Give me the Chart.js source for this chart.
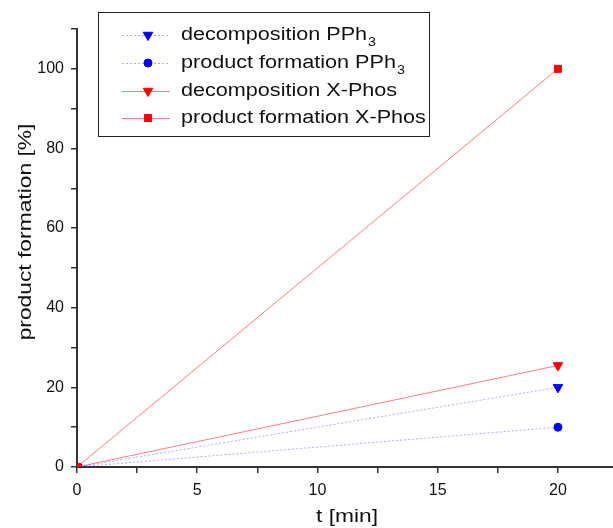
<!DOCTYPE html>
<html>
<head>
<meta charset="utf-8">
<script src="https://cdn.jsdelivr.net/npm/chart.js@4.4.0/dist/chart.umd.min.js"></script>
<style>
  html, body { margin: 0; padding: 0; background: #fff; }
  #wrap { width: 613px; height: 528px; }
</style>
</head>
<body>
<div id="wrap"><canvas id="chart" width="613" height="528"></canvas></div>
<script>
// data
const times = [0, 20];
const decompPPh3 = [0, 20];
const prodPPh3 = [0, 10];
const decompXPhos = [0, 25.5];
const prodXPhos = [0, 100];
const seriesNames = [
  "decomposition PPh₃",
  "product formation PPh₃",
  "decomposition X-Phos",
  "product formation X-Phos",
];

// axis ticks (minor ticks unlabeled)
const xTickValues = [0, 2.5, 5, 7.5, 10, 12.5, 15, 17.5, 20];
const xTickLabels = [0, 5, 10, 15, 20];
const yTickValues = [0, 10, 20, 30, 40, 50, 60, 70, 80, 90, 100, 110];
const yTickLabels = [0, 20, 40, 60, 80, 100];

const FONT = "Arial, 'Liberation Sans', sans-serif";
const BLUE = "#0000ff";
const RED = "#ff0000";

function toPoints(xs, ys) {
  return xs.map((x, i) => ({ x: x, y: ys[i] }));
}

// draw text stretched horizontally (the original fonts are rather wide)
function wideText(ctx, text, x, y, sx) {
  ctx.save();
  ctx.translate(x, y);
  ctx.scale(sx, 1);
  ctx.fillText(text, 0, 0);
  ctx.restore();
  return ctx.measureText(text).width * sx;
}

const boxLegend = {
  id: "boxLegend",
  afterDraw(chart) {
    const ctx = chart.ctx;
    ctx.save();
    // frame
    ctx.fillStyle = "#fff";
    ctx.fillRect(98, 12, 332, 125);
    ctx.strokeStyle = "#222";
    ctx.lineWidth = 1;
    ctx.strokeRect(98.5, 12.5, 331, 124);

    const baselines = [40, 68, 96, 123];
    chart.data.datasets.forEach((ds, i) => {
      const by = baselines[i];
      const my = by - 5;
      // sample line
      ctx.save();
      ctx.strokeStyle = ds.borderColor;
      ctx.lineWidth = ds.borderWidth;
      ctx.setLineDash(ds.borderDash || []);
      ctx.beginPath();
      ctx.moveTo(122, my + 0.5);
      ctx.lineTo(170, my + 0.5);
      ctx.stroke();
      ctx.restore();
      // marker
      ctx.save();
      ctx.fillStyle = ds.pointBackgroundColor;
      ctx.strokeStyle = ds.pointBorderColor;
      ctx.lineWidth = 1;
      Chart.helpers.drawPoint(ctx, {
        pointStyle: ds.pointStyle,
        rotation: ds.pointRotation || 0,
        radius: ds.pointRadius,
        borderWidth: 1,
      }, 148, my);
      ctx.restore();
      // label, with subscript 3
      ctx.fillStyle = "#111";
      ctx.textBaseline = "alphabetic";
      ctx.textAlign = "left";
      ctx.font = "18px " + FONT;
      const parts = ds.label.split("₃");
      const w = wideText(ctx, parts[0], 181, by, 1.2);
      if (parts.length > 1) {
        ctx.font = "13px " + FONT;
        wideText(ctx, "3", 181 + w + 1, by + 6, 1.1);
      }
    });
    ctx.restore();
  },
};

const axisTitles = {
  id: "axisTitles",
  afterDraw(chart) {
    const ctx = chart.ctx;
    ctx.save();
    ctx.fillStyle = "#111";
    ctx.font = "19px " + FONT;
    ctx.textAlign = "left";
    ctx.textBaseline = "middle";
    // y title
    const yt = "product formation [%]";
    const yw = ctx.measureText(yt).width * 1.2;
    ctx.save();
    ctx.translate(26, 232);
    ctx.rotate(-Math.PI / 2);
    wideText(ctx, yt, -yw / 2, 0, 1.2);
    ctx.restore();
    // x title
    const xt = "t [min]";
    const xw = ctx.measureText(xt).width * 1.2;
    wideText(ctx, xt, 347 - xw / 2, 517, 1.2);
    ctx.restore();
  },
};

const blueLine = "rgba(70, 70, 255, 0.45)";
const redLine = "rgba(255, 40, 40, 0.6)";

new Chart(document.getElementById("chart").getContext("2d"), {
  type: "line",
  data: {
    datasets: [
      {
        label: seriesNames[0],
        data: toPoints(times, decompPPh3),
        borderColor: blueLine,
        borderWidth: 1,
        borderDash: [2, 2],
        pointStyle: "triangle",
        pointRotation: 180,
        pointRadius: 5.5,
        pointBackgroundColor: BLUE,
        pointBorderColor: BLUE,
        order: 1,
      },
      {
        label: seriesNames[1],
        data: toPoints(times, prodPPh3),
        borderColor: blueLine,
        borderWidth: 1,
        borderDash: [2, 2],
        pointStyle: "circle",
        pointRadius: 4,
        pointBackgroundColor: BLUE,
        pointBorderColor: BLUE,
        order: 1,
      },
      {
        label: seriesNames[2],
        data: toPoints(times, decompXPhos),
        borderColor: redLine,
        borderWidth: 1,
        pointStyle: "triangle",
        pointRotation: 180,
        pointRadius: 5.5,
        pointBackgroundColor: RED,
        pointBorderColor: RED,
        order: 1,
      },
      {
        label: seriesNames[3],
        data: toPoints(times, prodXPhos),
        borderColor: redLine,
        borderWidth: 1,
        pointStyle: "rect",
        pointRadius: 5,
        pointBackgroundColor: RED,
        pointBorderColor: RED,
        order: 0,
      },
    ],
  },
  options: {
    responsive: false,
    animation: false,
    events: [],
    layout: { autoPadding: false, padding: { top: 29, right: 0, bottom: 0, left: 0 } },
    plugins: {
      legend: { display: false },
      tooltip: { enabled: false },
    },
    elements: { line: { tension: 0 } },
    scales: {
      x: {
        type: "linear",
        min: 0,
        max: 22.29,
        afterBuildTicks: (s) => {
          s.ticks = xTickValues.map((v) => ({ value: v }));
        },
        afterFit: (s) => {
          s.height = 61;
          s.paddingLeft = 0;
          s.paddingRight = 0;
        },
        ticks: {
          autoSkip: false,
          maxRotation: 0,
          padding: 8,
          color: "#111",
          font: { family: FONT, size: 16 },
          callback: (v) => (xTickLabels.includes(v) ? String(v) : ""),
        },
        grid: {
          drawOnChartArea: false,
          drawTicks: true,
          tickLength: 6,
          color: "#333",
          lineWidth: 1.5,
        },
        border: { display: true, color: "#333", width: 2 },
      },
      y: {
        type: "linear",
        min: 0,
        max: 110,
        afterBuildTicks: (s) => {
          s.ticks = yTickValues.map((v) => ({ value: v }));
        },
        afterFit: (s) => {
          s.width = 77;
          s.paddingTop = 0;
          s.paddingBottom = 0;
        },
        ticks: {
          autoSkip: false,
          padding: 7,
          color: "#111",
          font: { family: FONT, size: 16 },
          callback: (v) => (yTickLabels.includes(v) ? String(v) : ""),
        },
        grid: {
          drawOnChartArea: false,
          drawTicks: true,
          tickLength: 6,
          color: "#333",
          lineWidth: 1.5,
        },
        border: { display: true, color: "#333", width: 2 },
      },
    },
  },
  plugins: [boxLegend, axisTitles],
});
</script>
</body>
</html>
